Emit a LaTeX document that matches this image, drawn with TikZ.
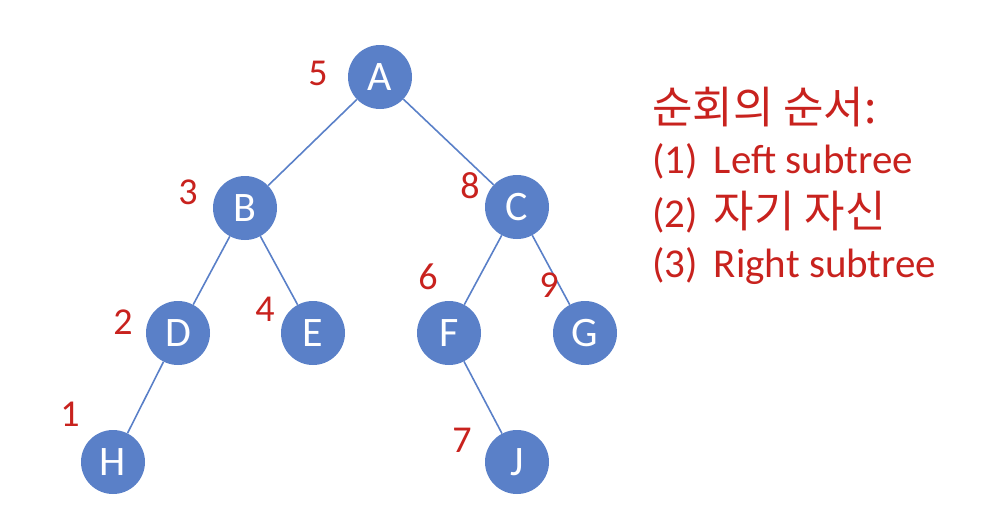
\documentclass[tikz,border=0pt]{standalone}
\usepackage{fontspec}
\setmainfont{Carlito}
\newfontfamily\hangul{Noto Sans CJK KR}
\usetikzlibrary{positioning}
\definecolor{nodeblue}{HTML}{5A80C8}
\definecolor{stepred}{HTML}{C8221E}

\begin{document}
\begin{tikzpicture}[x=1pt,y=-1pt,
  vert/.style={circle, fill=nodeblue, text=white, minimum size=64pt, inner sep=0pt, font=\fontsize{42}{42}\selectfont},
  order/.style={text=stepred, inner sep=0pt, font=\fontsize{38}{38}\selectfont},
  note/.style={text=stepred, anchor=base west, inner sep=0pt, font=\fontsize{41}{41}\selectfont},
  kor/.style={font=\fontsize{44}{44}\selectfont\hangul},
  edge/.style={draw=nodeblue, line width=1.6pt}]
\useasboundingbox (0,0) rectangle (990,520);
% tree
\node[vert] (A) at (380,77) {A};
\node[vert] (B) at (245,208) {B};
\node[vert] (C) at (517,207) {C};
\node[vert] (D) at (178,333) {D};
\node[vert] (E) at (313,333) {E};
\node[vert] (F) at (449,333) {F};
\node[vert] (G) at (585,333) {G};
\node[vert] (H) at (113,462) {H};
\node[vert] (J) at (517,462) {J};
\draw[edge] (A) -- (B);
\draw[edge] (A) -- (C);
\draw[edge] (B) -- (D);
\draw[edge] (B) -- (E);
\draw[edge] (C) -- (F);
\draw[edge] (C) -- (G);
\draw[edge] (D) -- (H);
\draw[edge] (F) -- (J);
% visiting order
\node[order] (nA) at (318,73) {5};
\node[order] (nB) at (188,192) {3};
\node[order] (nC) at (470,186) {8};
\node[order] (nD) at (123,322) {2};
\node[order] (nE) at (265,309) {4};
\node[order] (nF) at (428,277) {6};
\node[order] (nG) at (549,285) {9};
\node[order] (nH) at (70,414) {1};
\node[order] (nJ) at (462,440) {7};
% legend
\node[note, kor] (title) at (652,123) {순회의 순서:};
\node[note] (rule1) at (652,173) {(1)\, Left subtree};
\node[note] (rule2) at (652,227) {(2)\, {\fontsize{44}{44}\selectfont\hangul 자기 자신}};
\node[note] (rule3) at (652,277) {(3)\, Right subtree};
\end{tikzpicture}
\end{document}
